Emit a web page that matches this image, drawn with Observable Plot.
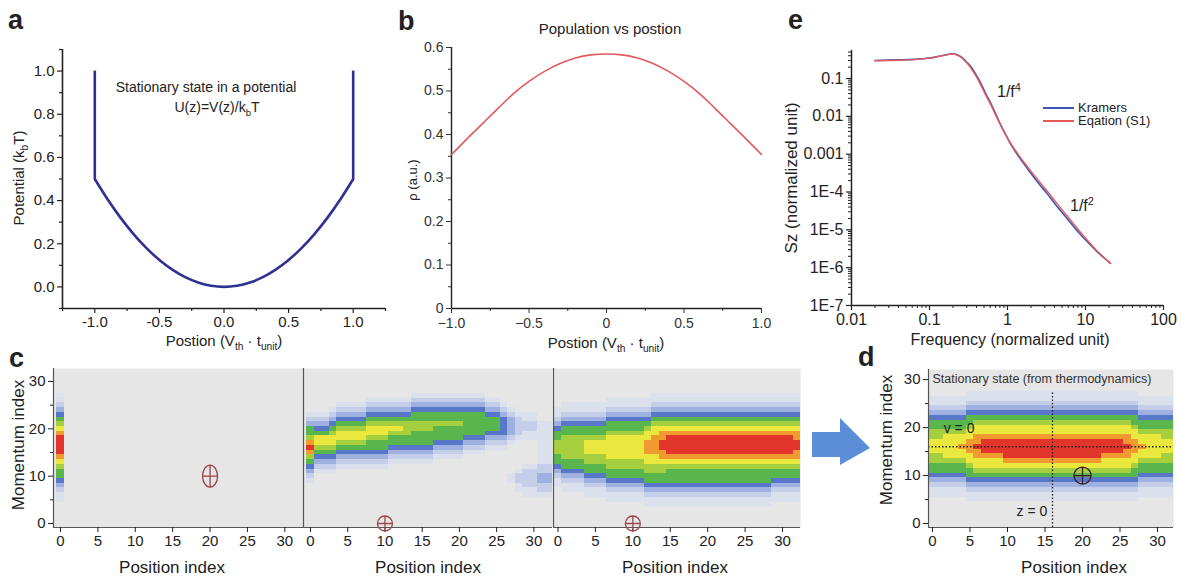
<!DOCTYPE html>
<html><head><meta charset="utf-8">
<script src="https://cdn.jsdelivr.net/npm/d3@7"></script>
<script src="https://cdn.jsdelivr.net/npm/@observablehq/plot@0.6"></script>
<style>
html,body{margin:0;padding:0;background:#fff;}
#fig{position:relative;width:1181px;height:580px;overflow:hidden;font-family:"Liberation Sans",Arial,sans-serif;color:#222;}
#fig svg{position:absolute;overflow:visible;}
.t{position:absolute;white-space:nowrap;line-height:1;}
.t sub,.t sup{font-size:0.68em;line-height:0;}
</style></head><body><div id="fig"></div>
<script>
// ---------------- data ----------------
// panel a : potential
const aZ = [-1,-0.9,-0.8,-0.7,-0.6,-0.5,-0.4,-0.3,-0.2,-0.1,0,0.1,0.2,0.3,0.4,0.5,0.6,0.7,0.8,0.9,1];
const aU = [0.5,0.405,0.32,0.245,0.18,0.125,0.08,0.045,0.02,0.005,0,0.005,0.02,0.045,0.08,0.125,0.18,0.245,0.32,0.405,0.5];
const aWallZ = [-1, 1];
const aWallBase = [0.5, 0.5];
const aWallTop = [1.0, 1.0];
const aXTicks = [-1,-0.5,0,0.5,1], aXLabels = ["-1.0","-0.5","0.0","0.5","1.0"];
const aXMinor = [-1.25,-0.75,-0.25,0.25,0.75,1.25];
const aYTicks = [0,0.2,0.4,0.6,0.8,1.0], aYLabels = ["0.0","0.2","0.4","0.6","0.8","1.0"];
const aYMinor = [-0.1,0.1,0.3,0.5,0.7,0.9,1.1];
const aXDomain = [-1.25, 1.25], aYDomain = [-0.1, 1.1];

// panel b : population
const bZ = [-1,-0.9,-0.8,-0.7,-0.6,-0.5,-0.4,-0.3,-0.2,-0.1,0,0.1,0.2,0.3,0.4,0.5,0.6,0.7,0.8,0.9,1];
const bRho = [0.354,0.390,0.425,0.460,0.494,0.522,0.545,0.563,0.576,0.583,0.585,0.583,0.576,0.563,0.545,0.522,0.494,0.460,0.425,0.390,0.354];
const bXTicks = [-1,-0.5,0,0.5,1], bXLabels = ["\u22121.0","\u22120.5","0","0.5","1.0"];
const bXMinor = [-0.75,-0.25,0.25,0.75];
const bYTicks = [0,0.1,0.2,0.3,0.4,0.5,0.6], bYLabels = ["0","0.1","0.2","0.3","0.4","0.5","0.6"];
const bYMinor = [0.05,0.15,0.25,0.35,0.45,0.55];
const bXDomain = [-1, 1], bYDomain = [0, 0.6];

// panel e : spectra
const eF = [0.02,0.04,0.063,0.1,0.126,0.16,0.195,0.23,0.26,0.3,0.336,0.4,0.45,0.52,0.605,0.7,0.81,1.09,1.4,1.78,2.4,3.2,4.3,5.8,7.8,10.5,14.5,20.9];
const eKramers = [0.30,0.31,0.32,0.35,0.38,0.42,0.45,0.42,0.36,0.27,0.21,0.12,0.078,0.042,0.023,0.012,0.0062,0.0019,8.5e-4,4.3e-4,1.9e-4,9.2e-5,4.2e-5,2.0e-5,9.5e-6,4.9e-6,2.5e-6,1.3e-6];
const eS1 = [0.295,0.305,0.315,0.345,0.375,0.415,0.445,0.41,0.35,0.26,0.195,0.11,0.07,0.038,0.021,0.011,0.006,0.0020,9.3e-4,4.8e-4,2.2e-4,1.08e-4,5.0e-5,2.35e-5,1.1e-5,5.4e-6,2.6e-6,1.3e-6];
const eSeries = ["Kramers", "Eqation (S1)"];
const eColors = ["#3b56b2", "#e8595c"];
const eXTicks = [0.01,0.1,1,10,100], eXLabels = ["0.01","0.1","1","10","100"];
const eYTicks = [1e-7,1e-6,1e-5,1e-4,1e-3,1e-2,1e-1], eYLabels = ["1E-7","1E-6","1E-5","1E-4","0.001","0.01","0.1"];
const eXDomain = [0.01, 100], eYDomain = [1e-7, 0.55];

// heat maps: [firstCol, lastCol, firstMomentum, levels from that momentum upward]
const heatLevels = [0,1,2,3,4,5,6,7,8,9];
const heatPalette = ["#e6e6e6","#dbe0ed","#c4cee9","#9fb1e0","#5877c9","#58b64c","#a5cf3f","#ebe83d","#f19a2f","#e2352b"];
const c1Runs = [[0,0,5,"11234556789999876543211"]];
const c2Runs = [
 [0,0,9,"123456898655321"],
 [1,2,11,"1234567754321"],
 [3,3,11,"12345677654321"],
 [4,7,12,"12345677654321"],
 [8,10,12,"123455677654321"],
 [11,12,13,"12345567654321"],
 [13,13,13,"12345566654321"],
 [14,16,13,"123455566554321"],
 [17,20,14,"12345556554321"],
 [21,23,15,"1234555554321"],
 [24,25,16,"12345554321"],
 [26,26,16,"1234444321"],
 [27,27,9,"1100000012333321"],
 [28,28,7,"11221000000122221"],
 [29,30,6,"112222100000112211"],
 [31,32,6,"1223322111111111"]
];
const c3Runs = [
 [0,0,8,"11234556665543211"],
 [1,3,7,"1123455666665543211"],
 [4,6,6,"11234556677765543211"],
 [7,11,5,"1123455667777765543211"],
 [12,12,4,"11234556677888776543211"],
 [13,13,4,"112345566778888776543211"],
 [14,14,4,"112345566788998876543211"],
 [15,28,4,"112345556789999876543211"],
 [29,31,5,"11234556789999876543211"],
 [32,32,5,"11234556788998876543211"]
];
const dRuns = [
 [0,1,6,"112345566777665543211"],
 [2,3,6,"112345567777765543211"],
 [4,4,6,"112345567787765543211"],
 [5,5,5,"11234556778887765543211"],
 [6,6,5,"11234567788988776543211"],
 [7,9,5,"11234567789998776543211"],
 [10,22,5,"11234567899998776543211"],
 [23,25,5,"11234567789998776543211"],
 [26,26,5,"11234567788988776543211"],
 [27,27,5,"11234556778887765543211"],
 [28,28,6,"112345567787765543211"],
 [29,30,6,"112345567777765543211"],
 [31,32,6,"112345566777665543211"]
];
const hXTicks = [0,5,10,15,20,25,30], hXLabels = ["0","5","10","15","20","25","30"];
const hYTicks = [0,10,20,30], hYLabels = ["0","10","20","30"];
const hYMinor = [5,15,25];
const c1Marker = [{i:20, m:10}];
const c2Marker = [{i:10, m:0}];
const c3Marker = [{i:10, m:0}];
const dMarker = [{i:20, m:10}];
const dZeroPos = [16];      // z = 0 column
const dZeroMom = [16];      // v = 0 row
const dZeroTop = [27.5];    // top of the z = 0 guide
const dNotesStart = [{text:"v = 0", i:1.5, m:19.8}];
const dNotesEnd = [{text:"z = 0", i:15.3, m:2.6}];

// ---------------- helpers ----------------
const fig = document.getElementById("fig");
const FONT = "'Liberation Sans', Arial, sans-serif";
const baseStyle = {fontFamily: FONT, fontSize: "14px", color: "#222", background: "transparent", overflow: "visible"};
const lab = (vals, labels) => { const m = new Map(vals.map((v, i) => [v, labels[i]])); return d => m.has(d) ? m.get(d) : ""; };
const blank = () => "";
function put(svg, left, top) { svg.style.left = left + "px"; svg.style.top = top + "px"; fig.appendChild(svg); }
function txt(html, x, y, {size = 15, anchor = "start", weight = "normal", rot = false, color = "#222"} = {}) {
  const d = document.createElement("div");
  d.className = "t"; d.innerHTML = html;
  d.style.fontSize = size + "px"; d.style.fontWeight = weight; d.style.color = color;
  d.style.left = x + "px";
  if (rot) { d.style.top = y + "px"; d.style.transform = "translate(-50%,-50%) rotate(-90deg)"; }
  else {
    d.style.top = (y - 0.8465 * size) + "px";
    d.style.transform = anchor === "middle" ? "translateX(-50%)" : anchor === "end" ? "translateX(-100%)" : "none";
  }
  fig.appendChild(d);
}
function ellipseCross(rx, ry) {
  const k = 0.5523;
  return {draw(ctx) {
    ctx.moveTo(rx, 0);
    ctx.bezierCurveTo(rx, ry * k, rx * k, ry, 0, ry);
    ctx.bezierCurveTo(-rx * k, ry, -rx, ry * k, -rx, 0);
    ctx.bezierCurveTo(-rx, -ry * k, -rx * k, -ry, 0, -ry);
    ctx.bezierCurveTo(rx * k, -ry, rx, -ry * k, rx, 0);
    ctx.closePath();
    ctx.moveTo(-rx, 0); ctx.lineTo(rx, 0);
    ctx.moveTo(0, -ry); ctx.lineTo(0, ry);
  }};
}
function cellsFromRuns(runs) {
  const cells = [];
  for (const [c0, c1, m0, s] of runs)
    for (let i = c0; i <= c1; i++)
      for (let k = 0; k < s.length; k++) if (s[k] !== "0") cells.push({i, m: m0 + k, v: +s[k]});
  return cells;
}

// ---------------- panel a ----------------
put(Plot.plot({
  width: 400, height: 345, marginLeft: 62, marginRight: 15, marginTop: 49, marginBottom: 37,
  x: {domain: aXDomain, axis: null}, y: {domain: aYDomain, axis: null}, style: baseStyle,
  marks: [
    Plot.axisX(aXTicks, {tickSize: 5, tickPadding: 3, tickFormat: lab(aXTicks, aXLabels), fontSize: 15, label: null, color: "#222", strokeWidth: 1.2}),
    Plot.axisX(aXMinor, {tickSize: 3, tickFormat: blank, label: null, strokeWidth: 1.2}),
    Plot.axisY(aYTicks, {tickSize: 5, tickPadding: 3, tickFormat: lab(aYTicks, aYLabels), fontSize: 15, label: null, color: "#222", strokeWidth: 1.2}),
    Plot.axisY(aYMinor, {tickSize: 3, tickFormat: blank, label: null, strokeWidth: 1.2}),
    Plot.ruleX([aXDomain[0]], {stroke: "#222", strokeWidth: 1.6}),
    Plot.ruleY([aYDomain[0]], {stroke: "#222", strokeWidth: 1.6}),
    Plot.ruleX(aWallZ, {x: d => d, y1: (d, i) => aWallBase[i], y2: (d, i) => aWallTop[i], stroke: "#2e3192", strokeWidth: 2.6}),
    Plot.line(aZ, {x: aZ, y: aU, stroke: "#2e3192", strokeWidth: 2.6, curve: "catmull-rom"})
  ]
}), 0, 0);
txt("a", 8, 30, {size: 27, weight: "bold"});
txt("Stationary state in a potential", 206, 92, {size: 14, anchor: "middle"});
txt("U(z)=V(z)/k<sub>b</sub>T", 217, 112, {size: 14, anchor: "middle"});
txt("Potential (k<sub>b</sub>T)", 18, 178, {size: 15, rot: true});
txt("Postion (V<sub>th</sub> · t<sub>unit</sub>)", 224, 346, {size: 15, anchor: "middle"});

// ---------------- panel b ----------------
put(Plot.plot({
  width: 400, height: 345, marginLeft: 71, marginRight: 19, marginTop: 47, marginBottom: 37,
  x: {domain: bXDomain, axis: null}, y: {domain: bYDomain, axis: null}, style: baseStyle,
  marks: [
    Plot.axisX(bXTicks, {tickSize: 5, tickPadding: 5, tickFormat: lab(bXTicks, bXLabels), fontSize: 14, label: null, color: "#333", strokeWidth: 1}),
    Plot.axisX(bXMinor, {tickSize: 3, tickFormat: blank, label: null, color: "#333"}),
    Plot.axisY(bYTicks, {tickSize: 5, tickPadding: 3, tickFormat: lab(bYTicks, bYLabels), fontSize: 14, label: null, color: "#333", strokeWidth: 1}),
    Plot.axisY(bYMinor, {tickSize: 3, tickFormat: blank, label: null, color: "#333"}),
    Plot.ruleX([bXDomain[0]], {stroke: "#222", strokeWidth: 1.4}),
    Plot.ruleY([bYDomain[0]], {stroke: "#222", strokeWidth: 1.4}),
    Plot.line(bZ, {x: bZ, y: bRho, stroke: "#e25a5c", strokeWidth: 1.6, curve: "catmull-rom"})
  ]
}), 380, 0);
txt("b", 398, 31, {size: 27, weight: "bold"});
txt("Population vs postion", 610, 34, {size: 15, anchor: "middle"});
txt("\u03c1 (a.u.)", 412, 180, {size: 13, rot: true});
txt("Postion (V<sub>th</sub> · t<sub>unit</sub>)", 606, 348, {size: 15, anchor: "middle"});

// ---------------- panel e ----------------
const eXMinor = [], eYMinor = [];
for (let p = -2; p < 2; p++) for (let k = 2; k < 10; k++) eXMinor.push(k * 10 ** p);
for (let p = -7; p < 0; p++) for (let k = 2; k < 10; k++) if (k * 10 ** p <= eYDomain[1]) eYMinor.push(k * 10 ** p);
put(Plot.plot({
  width: 401, height: 345, marginLeft: 71, marginRight: 18, marginTop: 50, marginBottom: 40,
  x: {type: "log", domain: eXDomain, axis: null}, y: {type: "log", domain: eYDomain, axis: null}, style: baseStyle,
  marks: [
    Plot.axisX(eXTicks, {tickSize: 5, tickPadding: 3, tickFormat: lab(eXTicks, eXLabels), fontSize: 16, label: null, color: "#222", strokeWidth: 1.2}),
    Plot.axisX(eXMinor, {tickSize: 3, tickFormat: blank, label: null, strokeWidth: 1}),
    Plot.axisY(eYTicks, {tickSize: 5, tickPadding: 3, tickFormat: lab(eYTicks, eYLabels), fontSize: 16, label: null, color: "#222", strokeWidth: 1.2}),
    Plot.axisY(eYMinor, {tickSize: 3, tickFormat: blank, label: null, strokeWidth: 1}),
    Plot.ruleX([eXDomain[0]], {stroke: "#222", strokeWidth: 1.5}),
    Plot.ruleY([eYDomain[0]], {stroke: "#222", strokeWidth: 1.5}),
    Plot.line(eF, {x: eF, y: eKramers, stroke: eColors[0], strokeWidth: 1.6, curve: "catmull-rom"}),
    Plot.line(eF, {x: eF, y: eS1, stroke: eColors[1], strokeWidth: 1.4, curve: "catmull-rom"})
  ]
}), 780, 0);
txt("e", 788, 30, {size: 27, weight: "bold"});
txt("Sz (normalized unit)", 791, 178, {size: 17, rot: true});
txt("Frequency (normalized unit)", 1010, 346, {size: 16, anchor: "middle"});
txt("1/f<sup>4</sup>", 997, 98, {size: 16});
txt("1/f<sup>2</sup>", 1070, 212, {size: 16});
eSeries.forEach((name, k) => {
  const y = 108 + k * 13;
  const ln = document.createElement("div");
  ln.style.cssText = `position:absolute;left:1043px;top:${y - 0.8}px;width:31px;height:1.6px;background:${eColors[k]};`;
  fig.appendChild(ln);
  txt(name, 1078, y + 4.5, {size: 13});
});

// ---------------- heat maps ----------------
function heatPanel({runs, left, width, mL, mR, xDom, yDom, yAxis, markers, symbol, markerColor, extra = [], top = 340, height = 240, mT = 28, mB = 53}) {
  const marks = [
    Plot.frame({fill: heatPalette[0], stroke: null}),
    Plot.rect(cellsFromRuns(runs), {x1: d => d.i - 0.5, x2: d => d.i + 0.5, y1: d => d.m - 0.5, y2: d => d.m + 0.5, fill: "v", clip: true, shapeRendering: "crispEdges"}),
    ...extra,
    Plot.ruleX([xDom[0]], {stroke: "#555", strokeWidth: 1.2}),
    Plot.ruleY([yDom[0]], {stroke: "#555", strokeWidth: 1.2}),
    Plot.axisX(hXTicks, {tickSize: 5, tickPadding: 3, tickFormat: lab(hXTicks, hXLabels), fontSize: 15, label: null, color: "#222"}),
    Plot.dot(markers, {x: "i", y: "m", symbol, r: 8, stroke: markerColor, strokeWidth: 1.3, fill: "none"})
  ];
  if (yAxis) marks.push(
    Plot.axisY(hYTicks, {tickSize: 5, tickPadding: 3, tickFormat: lab(hYTicks, hYLabels), fontSize: 15, label: null, color: "#222"}),
    Plot.axisY(hYMinor, {tickSize: 3, tickFormat: blank, label: null})
  );
  put(Plot.plot({
    width, height, marginLeft: mL, marginRight: mR, marginTop: mT, marginBottom: mB,
    x: {domain: xDom, axis: null}, y: {domain: yDom, axis: null},
    color: {type: "ordinal", domain: heatLevels, range: heatPalette},
    style: baseStyle, marks
  }), left, top);
}
heatPanel({runs: c1Runs, left: 0, width: 303, mL: 53, mR: 0, xDom: [-0.94, 32.5], yDom: [-0.85, 32.75], yAxis: true,
  markers: c1Marker, symbol: ellipseCross(7.5, 11), markerColor: "#9c3f45"});
heatPanel({runs: c2Runs, left: 298, width: 254, mL: 5, mR: 0, xDom: [-0.94, 32.5], yDom: [-0.85, 32.75], yAxis: false,
  markers: c2Marker, symbol: ellipseCross(7.5, 7.5), markerColor: "#9c4a4e"});
heatPanel({runs: c3Runs, left: 548, width: 257, mL: 5, mR: 5, xDom: [-0.6, 32.4], yDom: [-0.85, 32.75], yAxis: false,
  markers: c3Marker, symbol: ellipseCross(7.5, 7.5), markerColor: "#9c4a4e"});
heatPanel({runs: dRuns, left: 870, width: 311, mL: 58, mR: 8, mT: 29, xDom: [-0.53, 32.13], yDom: [-0.83, 32.1], yAxis: true,
  markers: dMarker, symbol: ellipseCross(8.5, 8.5), markerColor: "#3a1a28",
  extra: [
    Plot.ruleY(dZeroMom, {stroke: "#222", strokeWidth: 1.3, strokeDasharray: "1.5,2"}),
    Plot.ruleX(dZeroPos, {y1: -0.83, y2: (d, i) => dZeroTop[i], stroke: "#222", strokeWidth: 1.3, strokeDasharray: "1.5,2"}),
    Plot.text(["Stationary state (from thermodynamics)"], {frameAnchor: "top-left", dx: 4, dy: 5, lineAnchor: "top", textAnchor: "start", fontSize: 12.5, fill: "#333"}),
    Plot.text(dNotesStart, {x: "i", y: "m", text: "text", textAnchor: "start", fontSize: 14, fill: "#222"}),
    Plot.text(dNotesEnd, {x: "i", y: "m", text: "text", textAnchor: "end", fontSize: 14, fill: "#222"})
  ]});
txt("c", 9, 368, {size: 27, weight: "bold"});
txt("d", 858, 367, {size: 27, weight: "bold"});
txt("Momentum index", 18, 445, {size: 17, rot: true});
txt("Momentum index", 886, 440, {size: 17, rot: true});
[172, 428, 675, 1074].forEach(cx => txt("Position index", cx, 573, {size: 17, anchor: "middle"}));

// arrow between c and d
const ns = "http://www.w3.org/2000/svg";
const arrow = document.createElementNS(ns, "svg");
arrow.setAttribute("width", 70); arrow.setAttribute("height", 60);
const poly = document.createElementNS(ns, "polygon");
poly.setAttribute("points", "0,14 28,14 28,0 58,30 28,47 28,39 0,39");
poly.setAttribute("fill", "#5b8ed6");
arrow.appendChild(poly);
put(arrow, 812, 418);
</script>
</body></html>
